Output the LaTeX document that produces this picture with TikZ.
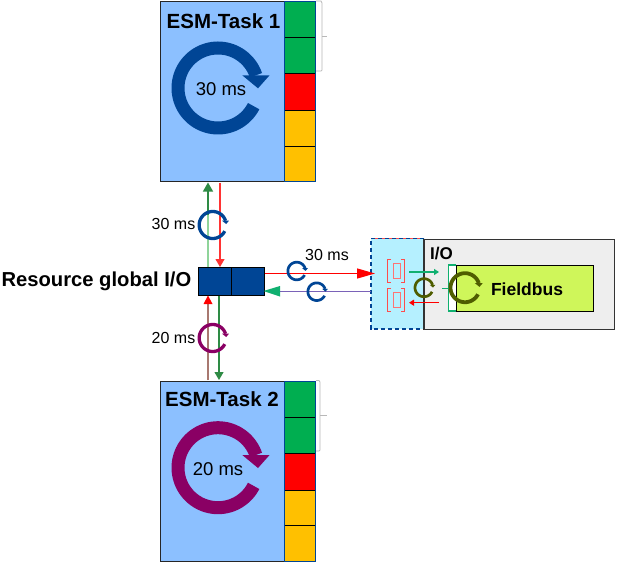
\documentclass[tikz,border=0pt]{standalone}
\usepackage{fontspec}
\setmainfont{Liberation Sans}
\usetikzlibrary{arrows.meta}
\definecolor{taskblue}{HTML}{8CC0FF}
\definecolor{navy}{HTML}{004595}
\definecolor{cellgreen}{HTML}{00AE50}
\definecolor{cellred}{HTML}{FF0000}
\definecolor{cellamber}{HTML}{FFC000}
\definecolor{plum}{HTML}{8A0064}
\definecolor{olive}{HTML}{4F5D00}
\definecolor{cyanbox}{HTML}{B5F0FF}
\definecolor{greybox}{HTML}{EEEEEE}
\definecolor{limebox}{HTML}{CFF65A}
\definecolor{darkgreen}{HTML}{2E8B45}
\definecolor{lightgreen}{HTML}{8FD49A}
\definecolor{vivgreen}{HTML}{10B070}
\definecolor{brownline}{HTML}{A87870}
\definecolor{purpline}{HTML}{7A62B8}
\definecolor{bracegrey}{HTML}{B8B8B8}
\tikzset{
  taskbox/.style={draw=black!85,line width=1pt,fill=taskblue,anchor=north west,inner sep=0pt,minimum width=155pt,minimum height=180pt},
  cellbox/.style={draw=black,line width=0.9pt,anchor=north west,inner sep=0pt,minimum width=30.5pt},
  columnbox/.style={draw=navy,line width=1.2pt,anchor=north west,inner sep=0pt,minimum width=30.5pt,minimum height=180pt},
  iocell/.style={draw=black,line width=1pt,fill=navy,anchor=north west,inner sep=0pt,minimum height=28pt},
  titletext/.style={font=\bfseries\fontsize{20.5}{22}\selectfont,inner sep=0pt},
  timetext/.style={font=\fontsize{16}{18}\selectfont,inner sep=0pt},
  bigtime/.style={font=\fontsize{18.5}{20}\selectfont,inner sep=0pt},
  redbracket/.style={draw=red!70,line width=1pt},
  bracepath/.style={draw=bracegrey,line width=0.7pt}
}
% centre x, centre y, radius, stroke, colour
\newcommand{\circarrow}[5]{%
  \draw[#5,line width=#4pt] plot[domain=27:341.5,samples=80] ({#1+#3*cos(\x)},{#2+#3*sin(\x)});
  \fill[#5] ({#1+#3*0.948-#4*1.05},{#2-#3*0.317}) -- ({#1+#3*0.948+#4*1.05},{#2-#3*0.317}) -- ({#1+#3},{#2-#3*0.317+#4*1.0}) -- cycle;
}
% name, x, y
\newcommand{\taskcolumn}[3]{%
  \node[cellbox,fill=cellgreen,minimum height=36.5pt] (#1c1) at (#2,#3) {};
  \node[cellbox,fill=cellgreen,minimum height=36pt] (#1c2) at (#2,#3+36.5) {};
  \node[cellbox,fill=cellred,minimum height=36.5pt] (#1c3) at (#2,#3+72.5) {};
  \node[cellbox,fill=cellamber,minimum height=35.5pt] (#1c4) at (#2,#3+109) {};
  \node[cellbox,fill=cellamber,minimum height=35.5pt] (#1c5) at (#2,#3+144.5) {};
  \node[columnbox] (#1col) at (#2,#3) {};
}
\begin{document}
\begin{tikzpicture}[x=1pt,y=-1pt]
\useasboundingbox (0,0) rectangle (617,564);
\fill[white] (0,0) rectangle (617,564);

% Task 1
\node[taskbox] (task1) at (160,1) {};
\taskcolumn{a}{284}{1}
\node[titletext] (title1) at (223.5,21) {ESM-Task 1};
\circarrow{218}{88}{40}{13}{navy}
\node[bigtime] (time1) at (221,89) {30 ms};
\draw[bracepath] (316,1) -- (321,1) -- (322,3) -- (322,70) -- (321,71) -- (316,71);
\draw[bracepath] (322,36) -- (327,36);

% Task 2
\node[taskbox] (task2) at (160,380.5) {};
\taskcolumn{b}{284}{380.5}
\node[titletext] (title2) at (222,399) {ESM-Task 2};
\circarrow{218}{467.7}{40}{13}{plum}
\node[bigtime] (time2) at (218,469) {20 ms};
\draw[bracepath] (316,380.5) -- (319,380.5) -- (320,382) -- (320,450) -- (319,451) -- (316,451);
\draw[bracepath] (320,415.5) -- (327,415.5);

% Right panel
\node[draw=black!80,line width=1.3pt,fill=greybox,anchor=north west,inner sep=0pt,minimum width=190pt,minimum height=90pt] (iobox) at (424,238.5) {};
\node[fill=cyanbox,anchor=north west,inner sep=0pt,minimum width=53pt,minimum height=90pt] (bridge) at (371,238.5) {};
\draw[red!70,line width=1pt] (bridge.north west) -- (bridge.north east);
\draw[navy,line width=1.3pt,dashed,dash pattern=on 4pt off 3pt] (bridge.north east) -- (bridge.north west) -- (bridge.south west) -- (bridge.south east);
\draw[black!80,line width=1.3pt] (iobox.north west) -- (iobox.south west);
\node[font=\bfseries\fontsize{17}{19}\selectfont,inner sep=0pt] (iotext) at (441.5,254) {I/O};
\fill[white] (448,265) rectangle (456,311);
\node[draw=black,line width=1pt,fill=limebox,anchor=north west,inner sep=0pt,minimum width=137pt,minimum height=46pt] (bus) at (456,265) {};
\node[font=\bfseries\fontsize{17.5}{19}\selectfont,inner sep=0pt] (bustext) at (527,289) {Fieldbus};
\draw[vivgreen,line width=1.2pt] (456,265) -- (448.5,265) -- (448.5,311) -- (456,311);
\draw[vivgreen,line width=1.2pt] (448.5,288.5) -- (442,288.5);
\circarrow{465}{287.7}{14.5}{3.8}{olive}
\circarrow{424}{287.7}{9}{2.7}{olive}

% Registers
\foreach \nm/\yy in {r1/259,r2/288}{
  \draw[redbracket] (391,\yy) -- (387.5,\yy) -- (387.5,\yy+23) -- (391,\yy+23);
  \draw[redbracket] (401,\yy) -- (404.5,\yy) -- (404.5,\yy+23) -- (401,\yy+23);
  \node[draw=red!55,line width=0.7pt,fill=cyanbox,anchor=north west,inner sep=0pt,minimum width=7pt,minimum height=15pt] (\nm) at (393,\yy+4) {};
}
\coordinate (gs) at (409,272);
\coordinate (ge) at (439,272);
\coordinate (rs) at (439,302.7);
\coordinate (re) at (409,302.7);
\draw[vivgreen,line width=1.3pt,-{Triangle[length=5pt,width=6pt]}] (gs) -- (ge);
\draw[red,line width=1.3pt,-{Triangle[length=5pt,width=6pt]}] (rs) -- (re);

% Global I/O
\node[iocell,minimum width=32.5pt] (gio1) at (198,267.3) {};
\node[iocell,minimum width=33.5pt] (gio2) at (230.5,267.3) {};
\node[font=\bfseries\fontsize{20.2}{22}\selectfont,inner sep=0pt,anchor=east] (giotext) at (191.5,281.5) {Resource global I/O};

% Vertical connectors
\coordinate (u1) at (208,267);
\coordinate (u2) at (208,182.5);
\coordinate (um) at (208,215);
\coordinate (d1) at (220,182.5);
\coordinate (d2) at (220,267);
\draw[lightgreen,line width=1.2pt] (u1) -- (um);
\draw[darkgreen,line width=1.2pt,-{Triangle[length=9pt,width=10pt]}] (um) -- (u2);
\draw[red!80,line width=1.1pt,-{Triangle[length=8pt,width=9pt]}] (d1) -- (d2);
\coordinate (v1) at (208,380);
\coordinate (v2) at (208,295.5);
\coordinate (w1) at (219,295.5);
\coordinate (w2) at (219,380);
\draw[brownline,line width=1.3pt] (v1) -- (208,303);
\fill[red] (v2) -- (203.5,304) -- (212.5,304) -- cycle;
\draw[darkgreen,line width=1.1pt,-{Triangle[length=8pt,width=9pt]}] (w1) -- (w2);

% Horizontal connectors
\coordinate (h1) at (264.5,273.5);
\coordinate (h2) at (375,273.5);
\coordinate (k1) at (371,291);
\coordinate (k2) at (263.5,291);
\draw[red,line width=1.1pt,-{Triangle[length=18pt,width=10pt]}] (h1) -- (h2);
\draw[purpline,line width=1pt] (k1) -- (275,291);
\fill[vivgreen] (k2) -- (280,286) -- (280,296.5) -- cycle;

% Small cycle symbols
\circarrow{212.7}{225}{13.5}{3.3}{navy}
\circarrow{212.7}{338}{13.5}{3.3}{plum}
\circarrow{296.7}{271}{8.8}{2.7}{navy}
\circarrow{316.7}{291.7}{8.8}{2.7}{navy}

\node[timetext] (lab30) at (173.5,223.5) {30 ms};
\node[timetext] (lab20) at (173.5,337.5) {20 ms};
\node[timetext] (lab30r) at (327,255) {30 ms};
\end{tikzpicture}
\end{document}
